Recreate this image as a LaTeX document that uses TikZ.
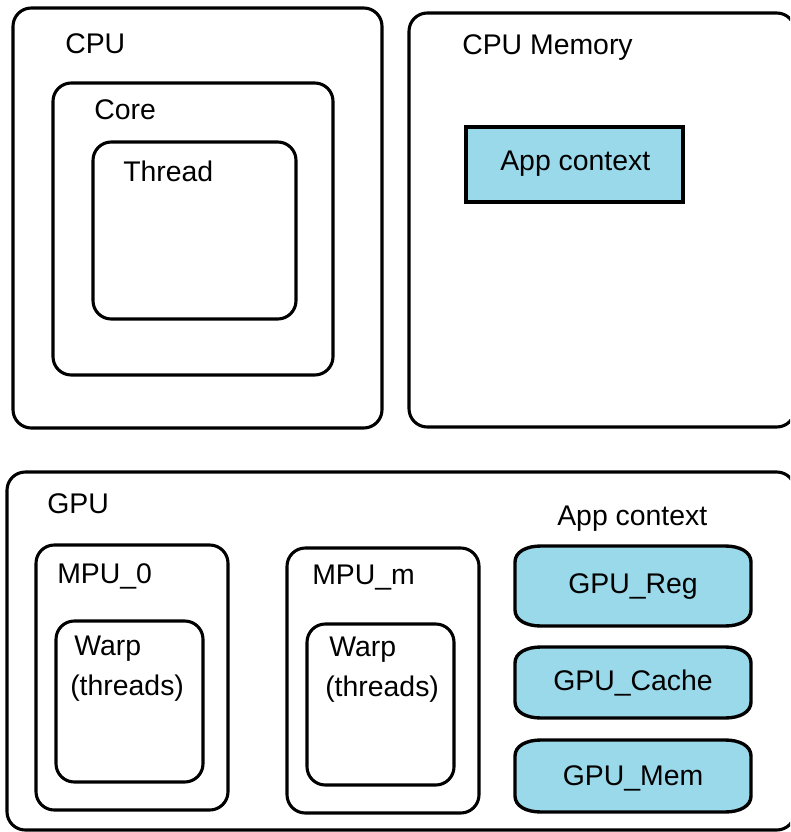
\documentclass[tikz,border=0pt]{standalone}
\usepackage{fontspec}
\setmainfont{Liberation Sans}
\definecolor{ctxblue}{RGB}{153,217,234}

\begin{document}
\begin{tikzpicture}[x=0.025cm, y=-0.025cm,
    every node/.style={font=\fontsize{20.2}{24}\selectfont, inner sep=0pt, anchor=base west},
    box/.style={line width=2.2pt, rounded corners=13pt},
    ctx/.style={line width=2.6pt, fill=ctxblue},
    cell/.style={line width=2.4pt, fill=ctxblue}]
    \useasboundingbox (0,0) rectangle (790,832);
    \clip (0,0) rectangle (790,832);
    % CPU side
    \draw[box] (13,8) rectangle (382,428);
    \draw[box] (53,83) rectangle (333,375);
    \draw[box] (93,142) rectangle (296,319);
    \node (cpu) at (65,54) {CPU};
    \node (core) at (94,120) {Core};
    \node (thread) at (123,182) {Thread};
    % CPU memory
    \draw[box] (409,13) rectangle (795,427);
    \node (cpumem) at (462,55) {CPU Memory};
    \draw[ctx] (466,127) rectangle (683,202);
    \node (cpuctx) at (500,171) {App context};
    % GPU side
    \draw[box] (7,472) rectangle (795,830);
    \node (gpu) at (47,513) {GPU};
    \foreach \n/\lbl/\xa/\ya/\xb/\yb/\mx/\my in {0/0/36/545/228/810/57/583, m/m/287/548/479/813/312/584} {
        \draw[box] (\xa,\ya) rectangle (\xb,\yb);
        \draw[box] (\xa+20,\ya+76) rectangle (\xb-25,\yb-28);
        \node (mpu_\n) at (\mx,\my) {MPU\_\lbl};
        \node (warp_\n) at (\mx+17,\my+72) {Warp};
        \node (threads_\n) at (\mx+13,\my+112) {(threads)};
    }
    % GPU app context
    \node (gpuctx) at (557,525) {App context};
    \foreach \n/\lbl/\ya/\yb/\by in {reg/Reg/546/626/593, cache/Cache/647/718/690, mem/Mem/740/812/785} {
        \draw[cell] (515,\ya+16) .. controls (515,\ya+6) and (526,\ya) .. (541,\ya) -- (725,\ya)
            .. controls (740,\ya) and (751,\ya+6) .. (751,\ya+16) -- (751,\yb-16)
            .. controls (751,\yb-6) and (740,\yb) .. (725,\yb) -- (541,\yb)
            .. controls (526,\yb) and (515,\yb-6) .. (515,\yb-16) -- cycle;
        \node[anchor=base] (gpu_\n) at (633,\by) {GPU\_\lbl};
    }
\end{tikzpicture}
\end{document}
